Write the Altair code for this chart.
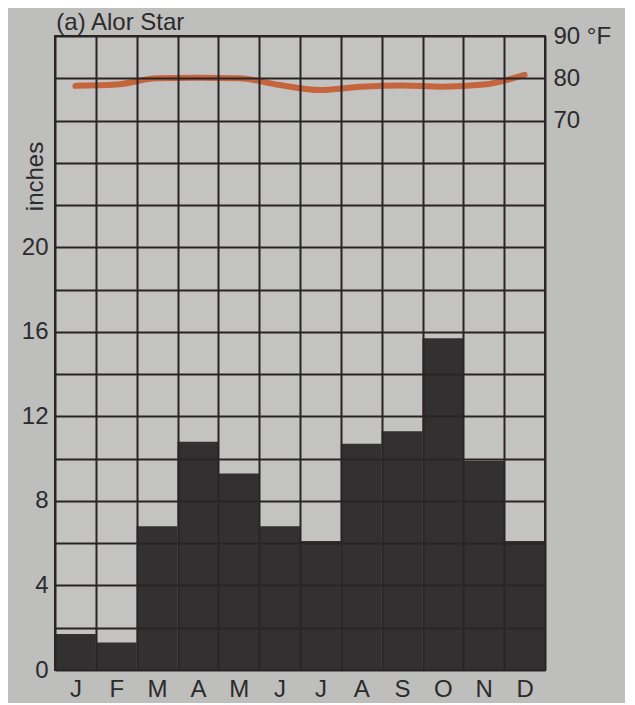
import altair as alt
import pandas as pd

months = ["J", "F", "M", "A", "M ", "J ", "J  ", "A ", "S", "O", "N", "D"]
rain_in = [1.7, 1.3, 6.8, 10.8, 9.3, 6.8, 6.1, 10.7, 11.3, 15.7, 9.9, 6.1]
temp_f = [78.2, 78.5, 80.0, 80.1, 80.0, 78.4, 77.2, 78.0, 78.3, 78.0, 78.5, 80.8]

df = pd.DataFrame({"month": months, "rain": rain_in, "temp": temp_f})

FONT = "Liberation Sans"
GRID = "#2a2427"
TXT = "#2b2b2b"
BG = "#bebebd"

x_enc = alt.X(
    "month:N",
    sort=months,
    scale=alt.Scale(paddingInner=0, paddingOuter=0),
    axis=alt.Axis(
        title=None,
        labelExpr="trim(datum.label)",
        labelAngle=0,
        labelFont=FONT,
        labelFontSize=24,
        labelColor=TXT,
        labelBaseline="top",
        labelPadding=7,
        ticks=False,
        domain=False,
        grid=True,
        tickBand="extent",
        gridColor=GRID,
        gridWidth=2,
        gridOpacity=1,
        zindex=1,
    ),
)

bars = alt.Chart(df).mark_bar(color="#323031").encode(
    x=x_enc,
    y=alt.Y(
        "rain:Q",
        scale=alt.Scale(domain=[0, 30], nice=False),
        axis=alt.Axis(
            values=list(range(0, 31, 2)),
            labelExpr="(datum.value <= 20 && datum.value % 4 == 0) ? datum.label : ''",
            labelFont=FONT,
            labelFontSize=24,
            labelColor=TXT,
            labelPadding=7,
            ticks=False,
            domain=False,
            grid=True,
            gridColor=GRID,
            gridWidth=2,
            gridOpacity=1,
            zindex=1,
            title="inches",
            titleFont=FONT,
            titleFontSize=24,
            titleFontWeight="normal",
            titleColor=TXT,
            titleAngle=-90,
            titleAlign="center",
            titleBaseline="middle",
            titleX=-20,
            titleY=140,
        ),
    ),
)

line = alt.Chart(df).mark_line(
    color="#c65a2c", strokeWidth=6, opacity=0.9, strokeCap="round", interpolate="monotone"
).encode(
    x=x_enc,
    y=alt.Y(
        "temp:Q",
        scale=alt.Scale(domain=[-60, 90], nice=False),
        axis=alt.Axis(
            orient="right",
            values=[70, 80, 90],
            labelExpr="datum.value == 90 ? '90  °F' : datum.label",
            labelFont=FONT,
            labelFontSize=24,
            labelColor=TXT,
            labelPadding=8,
            ticks=False,
            domain=False,
            grid=False,
            title=None,
        ),
    ),
)

chart = (
    alt.layer(line, bars)
    .resolve_scale(y="independent")
    .properties(
        width=490,
        height=634,
        title=alt.TitleParams(
            "(a) Alor Star",
            anchor="start",
            font=FONT,
            fontSize=24,
            fontWeight="normal",
            color=TXT,
            offset=-11,
            dx=35,
        ),
        autosize=alt.AutoSizeParams(type="none"),
        padding={"left": 47, "top": 28, "right": 80, "bottom": 33},
        background=BG,
    )
    .configure_view(stroke=GRID, strokeWidth=2, fill="#c3c3c2")
)

chart.save("out.html", embed_options={"renderer": "svg", "actions": False})
